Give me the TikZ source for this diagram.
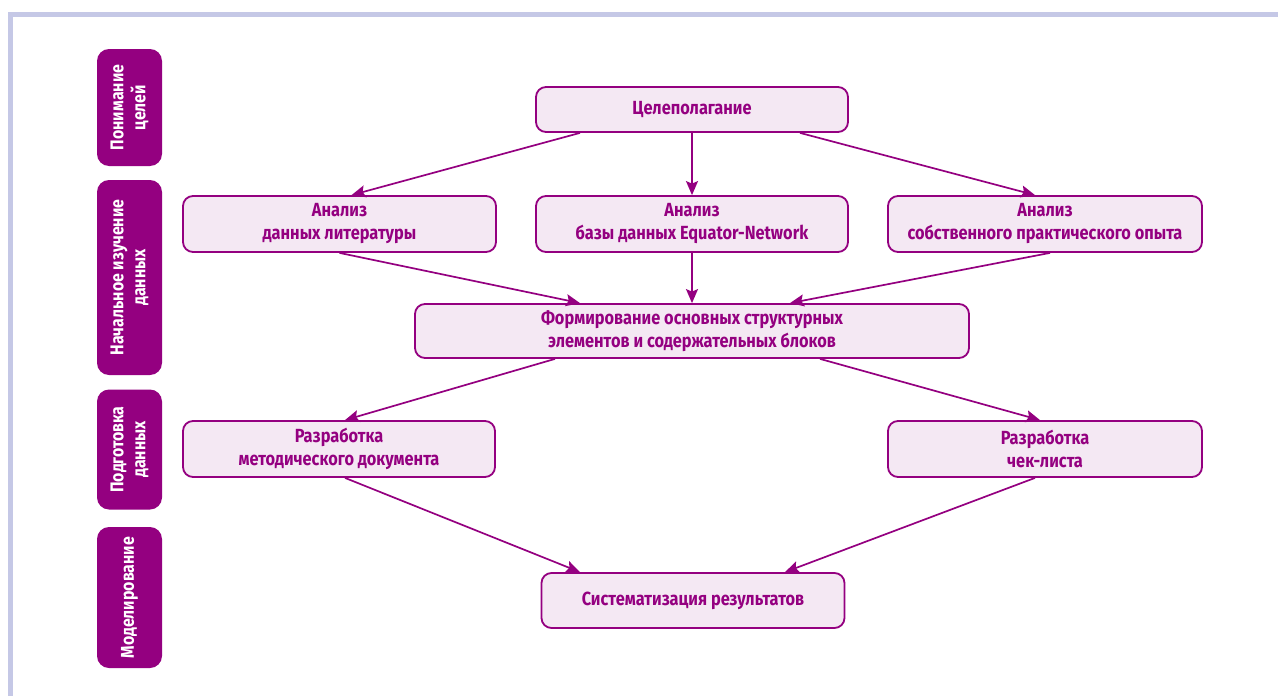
\documentclass[tikz,border=0pt]{standalone}
\usepackage{fontspec}
\setmainfont{Fira Sans}[FakeStretch=0.86]
\usetikzlibrary{arrows.meta,calc}
\definecolor{purp}{RGB}{148,0,128}
\definecolor{lightp}{RGB}{244,232,243}
\definecolor{frame}{RGB}{197,200,230}
\tikzset{
  box/.style={draw=purp, line width=1.8pt, fill=lightp, rounded corners=10pt,
    align=center, text=purp, inner sep=0pt,
    font=\fontsize{19}{23}\selectfont\bfseries},
  sidebar/.style={fill=purp, rounded corners=12pt, inner sep=0pt,
    minimum width=65pt},
  sidetext/.style={rotate=90, text=white, align=center, inner sep=0pt,
    font=\fontsize{18.5}{22}\selectfont\bfseries},
  arr/.style={draw=purp, line width=1.7pt,
    -{Stealth[length=14pt, width=12pt, inset=2.5pt]}}
}
\begin{document}
\begin{tikzpicture}[x=1pt,y=-1pt]
\useasboundingbox (0,0) rectangle (1278,696);
\fill[white] (0,0) rectangle (1278,696);
% frame
\fill[frame] (8,12) rectangle (1278,17);
\fill[frame] (8,12) rectangle (13,696);

% side bars
\node[sidebar, minimum height=117pt] (s1) at (129.5,107.5) {};
\node[sidetext] (t1) at (s1.center) {Понимание\\целей};
\node[sidebar, minimum height=195pt] (s2) at (129.5,277.5) {};
\node[sidetext] (t2) at (s2.center) {Начальное изучение\\данных};
\node[sidebar, minimum height=120pt] (s3) at (129.5,449.5) {};
\node[sidetext] (t3) at (s3.center) {Подготовка\\данных};
\node[sidebar, minimum height=141pt] (s4) at (129.5,597.5) {};
\node[sidetext] (t4) at (s4.center) {Моделирование};

% boxes
\node[box, minimum width=312pt, minimum height=45pt] (goal) at (692,109.5) {Целеполагание};
\node[box, minimum width=313pt, minimum height=56pt] (lit) at (339.5,224) {Анализ\\данных литературы};
\node[box, minimum width=312pt, minimum height=56pt] (eq) at (692,224) {Анализ\\базы данных Equator-Network};
\node[box, minimum width=314pt, minimum height=56pt] (own) at (1045,224) {Анализ\\собственного практического опыта};
\node[box, minimum width=554pt, minimum height=54pt] (form) at (692,331) {Формирование основных структурных\\элементов и содержательных блоков};
\node[box, minimum width=312pt, minimum height=56pt] (met) at (339,449) {Разработка\\методического документа};
\node[box, minimum width=314pt, minimum height=56pt] (chk) at (1045,449) {Разработка\\чек-листа};
\node[box, minimum width=303pt, minimum height=55pt] (sys) at (693,600.5) {Систематизация результатов};

% arrows
\draw[arr] ($(goal.south)+(-112,0)$) -- ($(lit.north)+(12,0)$);
\draw[arr] (goal.south) -- (eq.north);
\draw[arr] ($(goal.south)+(108,0)$) -- ($(own.north)+(-10,0)$);
\draw[arr] (lit.south) -- ($(form.north)+(-112,0)$);
\draw[arr] (eq.south) -- (form.north);
\draw[arr] ($(own.south)+(5,0)$) -- ($(form.north)+(98,0)$);
\draw[arr] ($(form.south)+(-137,0)$) -- ($(met.north)+(6,0)$);
\draw[arr] ($(form.south)+(128,0)$) -- ($(chk.north)+(-5,0)$);
\draw[arr] ($(met.south)+(6,0)$) -- ($(sys.north)+(-113,0)$);
\draw[arr] ($(chk.south)+(-10,0)$) -- ($(sys.north)+(92,0)$);
\end{tikzpicture}
\end{document}
